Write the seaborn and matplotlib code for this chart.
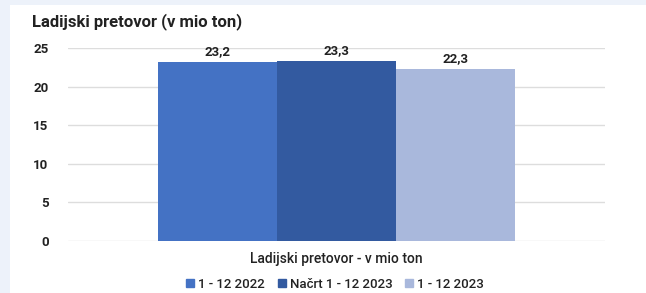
import matplotlib
matplotlib.use("Agg")
import matplotlib.pyplot as plt
import seaborn as sns
import pandas as pd
from matplotlib.patches import Rectangle

# chart data
category = ["Ladijski pretovor - v mio ton"]
series = ["1 - 12 2022", "Načrt 1 - 12 2023", "1 - 12 2023"]
values = [23.2, 23.3, 22.3]
colors = ["#4472C4", "#335AA0", "#A9B8DC"]
yticks = [0, 5, 10, 15, 20, 25]

df = pd.DataFrame({"cat": category * len(series), "serija": series, "vrednost": values})

sns.set_style("white")
plt.rcParams["font.family"] = ["Roboto", "DejaVu Sans"]

fig = plt.figure(figsize=(6.46, 2.93), dpi=100, facecolor="#EDF2FA")
# white card on the light blue page
card = fig.add_axes([10 / 646, 0, 636 / 646, 1 - 5 / 293], zorder=-1)
card.set_axis_off()
card.add_patch(Rectangle((0, 0), 1, 1, facecolor="white", edgecolor="none"))

ax = fig.add_axes([68 / 646, 1 - 241 / 293, 537 / 646, 193 / 293], zorder=1)
ax.set_facecolor("none")

sns.barplot(data=df, x="cat", y="vrednost", hue="serija", hue_order=series,
            palette=colors, width=0.664, saturation=1, linewidth=0, ax=ax, legend=False)

for cont in ax.containers:
    ax.bar_label(cont, labels=[f"{v:.1f}".replace(".", ",") for v in cont.datavalues],
                 padding=3, fontsize=9.5, fontweight="bold", color="#222222")

ax.set_ylim(0, 25)
ax.set_yticks(yticks)
ax.set_xlim(-0.5, 0.5)
ax.yaxis.grid(True, color="#DDDDDD", linewidth=1)
ax.set_axisbelow(True)
sns.despine(ax=ax, left=True, bottom=True)
ax.tick_params(axis="y", length=0, pad=14, labelsize=9.5, labelcolor="#222222")
for t in ax.get_yticklabels():
    t.set_fontweight("bold")
ax.tick_params(axis="x", length=0, pad=8, labelsize=10, labelcolor="#222222")
for t in ax.get_xticklabels():
    t.set_fontweight("medium")
ax.set_xlabel("")
ax.set_ylabel("")

fig.text(32 / 646, 1 - 22 / 293, "Ladijski pretovor (v mio ton)", fontsize=12,
         fontweight="bold", color="#222222", va="center", ha="left")

handles = [Rectangle((0, 0), 1, 1, color=c) for c in colors]
leg = fig.legend(handles, series, loc="center", bbox_to_anchor=(335 / 646, 1 - 284 / 293),
                 ncol=3, frameon=False, fontsize=9.5, handlelength=0.6, handleheight=0.6,
                 handletextpad=0.3, columnspacing=1.0, labelcolor="#222222")
for t in leg.get_texts():
    t.set_fontweight("medium")

fig.savefig("out.png", dpi=100, facecolor=fig.get_facecolor())
